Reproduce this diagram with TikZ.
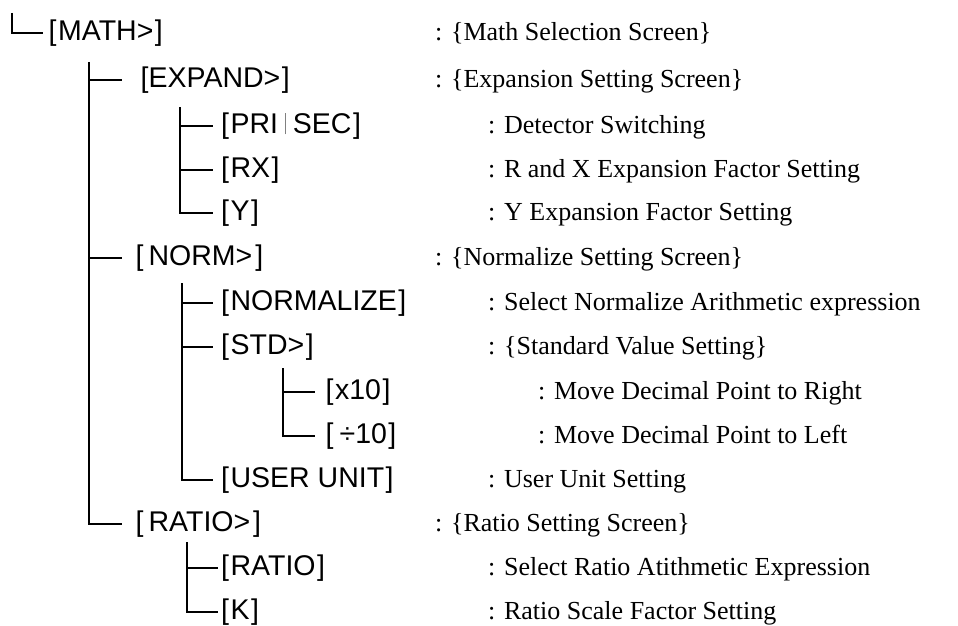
\documentclass[tikz,border=0pt]{standalone}
\usepackage{fontspec}
\setmainfont{Liberation Serif}
\newfontfamily\arialf{Liberation Sans}
\newcommand{\lb}{[\hspace{1.5pt}}
\newcommand{\rb}{\hspace{1.5pt}]}
\begin{document}
\begin{tikzpicture}[x=1pt,y=-1pt,
  key/.style={anchor=west,inner sep=0pt,font=\arialf\fontsize{28.5}{32}\selectfont},
  desc/.style={anchor=base west,inner sep=0pt,font=\fontsize{26}{30}\selectfont},
  tree/.style={line width=1.8pt}]
\useasboundingbox (0,0) rectangle (958,626);
% keys
\node[key] (math)   at (48.5,33)  {\lb MATH>\rb};
\node[key] (expand) at (140.5,80) {[EXPAND>\rb};
\node[key] (pri)    at (221,126) {\lb PRI\hspace{7pt}{\color{black!50}\rule[-1pt]{0.8pt}{21pt}}\hspace{7pt}SEC\rb};
\node[key] (rx)     at (221,170) {\lb RX\rb};
\node[key] (ykey)   at (221,213) {\lb Y\rb};
\node[key] (norm)   at (135.5,258) {[\hspace{5pt}NORM>\hspace{3pt}]};
\node[key] (normz)  at (221,303) {\lb NORMALIZE\rb};
\node[key] (std)    at (221,347) {\lb STD>\rb};
\node[key] (xten)   at (325.5,392) {\lb x10\rb};
\node[key] (dten)   at (325.5,436) {[\hspace{6pt}÷10\rb};
\node[key] (user)   at (221,480) {\lb USER UNIT\rb};
\node[key] (ratiot) at (135.5,524) {[\hspace{5pt}RATIO>\hspace{3pt}]};
\node[key] (ratio)  at (221,568) {\lb RATIO\rb};
\node[key] (kkey)   at (221,612) {\lb K\rb};
% descriptions
\node[desc] (dmath)   at (435,0 |- math.base)   {: \{Math Selection Screen\}};
\node[desc] (dexpand) at (435,0 |- expand.base) {: \{Expansion Setting Screen\}};
\node[desc] (dpri)    at (488,0 |- pri.base)    {: Detector Switching};
\node[desc] (drx)     at (488,0 |- rx.base)     {: R and X Expansion Factor Setting};
\node[desc] (dy)      at (488,0 |- ykey.base)   {: Y Expansion Factor Setting};
\node[desc] (dnorm)   at (435,0 |- norm.base)   {: \{Normalize Setting Screen\}};
\node[desc] (dnormz)  at (488,0 |- normz.base)  {: Select Normalize Arithmetic expression};
\node[desc] (dstd)    at (488,0 |- std.base)    {: \{Standard Value Setting\}};
\node[desc] (dxten)   at (538,0 |- xten.base)   {: Move Decimal Point to Right};
\node[desc] (ddten)   at (538,0 |- dten.base)   {: Move Decimal Point to Left};
\node[desc] (duser)   at (488,0 |- user.base)   {: User Unit Setting};
\node[desc] (dratiot) at (435,0 |- ratiot.base) {: \{Ratio Setting Screen\}};
\node[desc] (dratio)  at (488,0 |- ratio.base)  {: Select Ratio Atithmetic Expression};
\node[desc] (dk)      at (488,0 |- kkey.base)   {: Ratio Scale Factor Setting};
% tree lines
\coordinate (r0) at (12,13);
\draw[tree] (r0) |- ([xshift=-5.5pt]math.west);
\coordinate (v1) at (89,62);
\draw[tree] (v1) |- ([xshift=-13.5pt]ratiot.west);
\draw[tree] (v1 |- expand.west) -- ([xshift=-18.5pt]expand.west);
\draw[tree] (v1 |- norm.west) -- ([xshift=-13.5pt]norm.west);
\coordinate (v2) at (180,107);
\draw[tree] (v2) |- ([xshift=-8pt]ykey.west);
\draw[tree] (v2 |- pri.west) -- ([xshift=-8pt]pri.west);
\draw[tree] (v2 |- rx.west) -- ([xshift=-8pt]rx.west);
\coordinate (v3) at (182,283);
\draw[tree] (v3) |- ([xshift=-8pt]user.west);
\draw[tree] (v3 |- normz.west) -- ([xshift=-8pt]normz.west);
\draw[tree] (v3 |- std.west) -- ([xshift=-8pt]std.west);
\coordinate (v4) at (283,368);
\draw[tree] (v4) |- ([xshift=-10.5pt]dten.west);
\draw[tree] (v4 |- xten.west) -- ([xshift=-10.5pt]xten.west);
\coordinate (v5) at (187,542);
\draw[tree] (v5) |- ([xshift=-3pt]kkey.west);
\draw[tree] (v5 |- ratio.west) -- ([xshift=-3pt]ratio.west);
\end{tikzpicture}
\end{document}
